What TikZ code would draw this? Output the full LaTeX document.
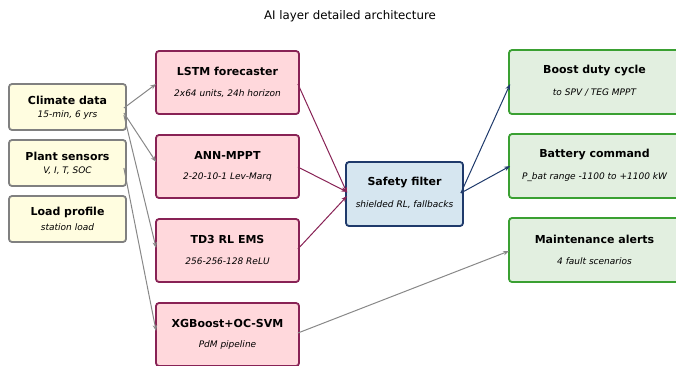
\documentclass[tikz,border=0pt]{standalone}
\usepackage{fontspec}
\setmainfont{DejaVu Sans}
\usetikzlibrary{arrows.meta}
\definecolor{infill}{RGB}{255,253,224}
\definecolor{inedge}{RGB}{128,128,128}
\definecolor{modfill}{RGB}{255,216,220}
\definecolor{modedge}{RGB}{136,34,85}
\definecolor{safefill}{RGB}{214,230,240}
\definecolor{safeedge}{RGB}{31,58,107}
\definecolor{outfill}{RGB}{226,239,224}
\definecolor{outedge}{RGB}{58,160,50}
\definecolor{flowgray}{RGB}{136,136,136}

\begin{document}
\begin{tikzpicture}[x=1pt,y=-1pt,
  box/.style={rounded corners=3pt,line width=1.8pt,inner sep=0pt},
  inbox/.style={box,draw=inedge,fill=infill,minimum width=117pt,minimum height=46pt},
  modbox/.style={box,draw=modedge,fill=modfill,minimum width=143pt,minimum height=63pt},
  safebox/.style={box,draw=safeedge,fill=safefill,minimum width=117pt,minimum height=64pt},
  outbox/.style={box,draw=outedge,fill=outfill,minimum width=171pt,minimum height=64pt},
  ttl/.style={font=\fontsize{11}{13}\selectfont\bfseries},
  sub/.style={font=\fontsize{9}{11}\selectfont\itshape},
  flow/.style={-{Stealth[length=6pt,width=4.5pt]},line width=1pt}]
\useasboundingbox (0,0) rectangle (676,365);
\node[font=\fontsize{11.8}{14}\selectfont] (title) at (350,16) {AI layer detailed architecture};

% inputs
\node[inbox] (clim) at (67.5,107) {};
\node[inbox] (plant) at (67.5,163) {};
\node[inbox] (load) at (67.5,219) {};
\node[ttl] at ([yshift=7pt]clim.center) {Climate data};
\node[sub] at ([yshift=-8pt]clim.center) {15-min, 6 yrs};
\node[ttl] at ([yshift=7pt]plant.center) {Plant sensors};
\node[sub] at ([yshift=-8pt]plant.center) {V, I, T, SOC};
\node[ttl] at ([yshift=7pt]load.center) {Load profile};
\node[sub] at ([yshift=-8pt]load.center) {station load};

% AI modules
\node[modbox] (lstm) at (227.5,82.5) {};
\node[modbox] (ann) at (227.5,166.5) {};
\node[modbox] (td3) at (227.5,250.5) {};
\node[modbox] (xgb) at (227.5,334.5) {};
\node[ttl] at ([yshift=11pt]lstm.center) {LSTM forecaster};
\node[sub] at ([yshift=-11pt]lstm.center) {2x64 units, 24h horizon};
\node[ttl] at ([yshift=11pt]ann.center) {ANN-MPPT};
\node[sub] at ([yshift=-11pt]ann.center) {2-20-10-1 Lev-Marq};
\node[ttl] at ([yshift=11pt]td3.center) {TD3 RL EMS};
\node[sub] at ([yshift=-11pt]td3.center) {256-256-128 ReLU};
\node[ttl] at ([yshift=11pt]xgb.center) {XGBoost+OC-SVM};
\node[sub] at ([yshift=-11pt]xgb.center) {PdM pipeline};

% safety layer
\node[safebox] (safe) at (404.5,194) {};
\node[ttl] at ([yshift=11pt]safe.center) {Safety filter};
\node[sub] at ([yshift=-11pt]safe.center) {shielded RL, fallbacks};

% outputs
\node[outbox] (boost) at (594.5,82) {};
\node[outbox] (batt) at (594.5,166) {};
\node[outbox] (maint) at (594.5,250) {};
\node[ttl] at ([yshift=11pt]boost.center) {Boost duty cycle};
\node[sub] at ([yshift=-11pt]boost.center) {to SPV / TEG MPPT};
\node[ttl] at ([yshift=11pt]batt.center) {Battery command};
\node[sub] at ([yshift=-11pt]batt.center) {P\_bat range -1100 to +1100 kW};
\node[ttl] at ([yshift=11pt]maint.center) {Maintenance alerts};
\node[sub] at ([yshift=-11pt]maint.center) {4 fault scenarios};

% data flows
\draw[flow,flowgray] ([xshift=-3pt,yshift=-1pt]clim.east) -- ([xshift=1pt,yshift=-1.5pt]lstm.west);
\draw[flow,flowgray] ([xshift=-3pt,yshift=-6pt]clim.east) -- ([xshift=1pt,yshift=4.5pt]ann.west);
\draw[flow,flowgray] ([xshift=-3pt,yshift=-8pt]clim.east) -- ([xshift=1pt,yshift=2.5pt]td3.west);
\draw[flow,flowgray] ([xshift=-3pt,yshift=-5pt]plant.east) -- ([xshift=1pt,yshift=3.5pt]xgb.west);
\draw[flow,modedge] ([xshift=-2pt,yshift=-1.5pt]lstm.east) -- ([xshift=2pt,yshift=1pt]safe.west);
\draw[flow,modedge] ([xshift=-2pt,yshift=-0.5pt]ann.east) -- ([xshift=2pt,yshift=2pt]safe.west);
\draw[flow,modedge] ([xshift=-2pt,yshift=1.5pt]td3.east) -- ([xshift=2pt,yshift=-2pt]safe.west);
\draw[flow,safeedge] ([xshift=-3pt,yshift=1pt]safe.east) -- ([xshift=2pt,yshift=-2pt]boost.west);
\draw[flow,safeedge] ([xshift=-3pt,yshift=1pt]safe.east) -- ([xshift=2pt]batt.west);
\draw[flow,flowgray] ([xshift=-2pt,yshift=1.5pt]xgb.east) -- ([xshift=1pt,yshift=-1pt]maint.west);
\end{tikzpicture}
\end{document}
